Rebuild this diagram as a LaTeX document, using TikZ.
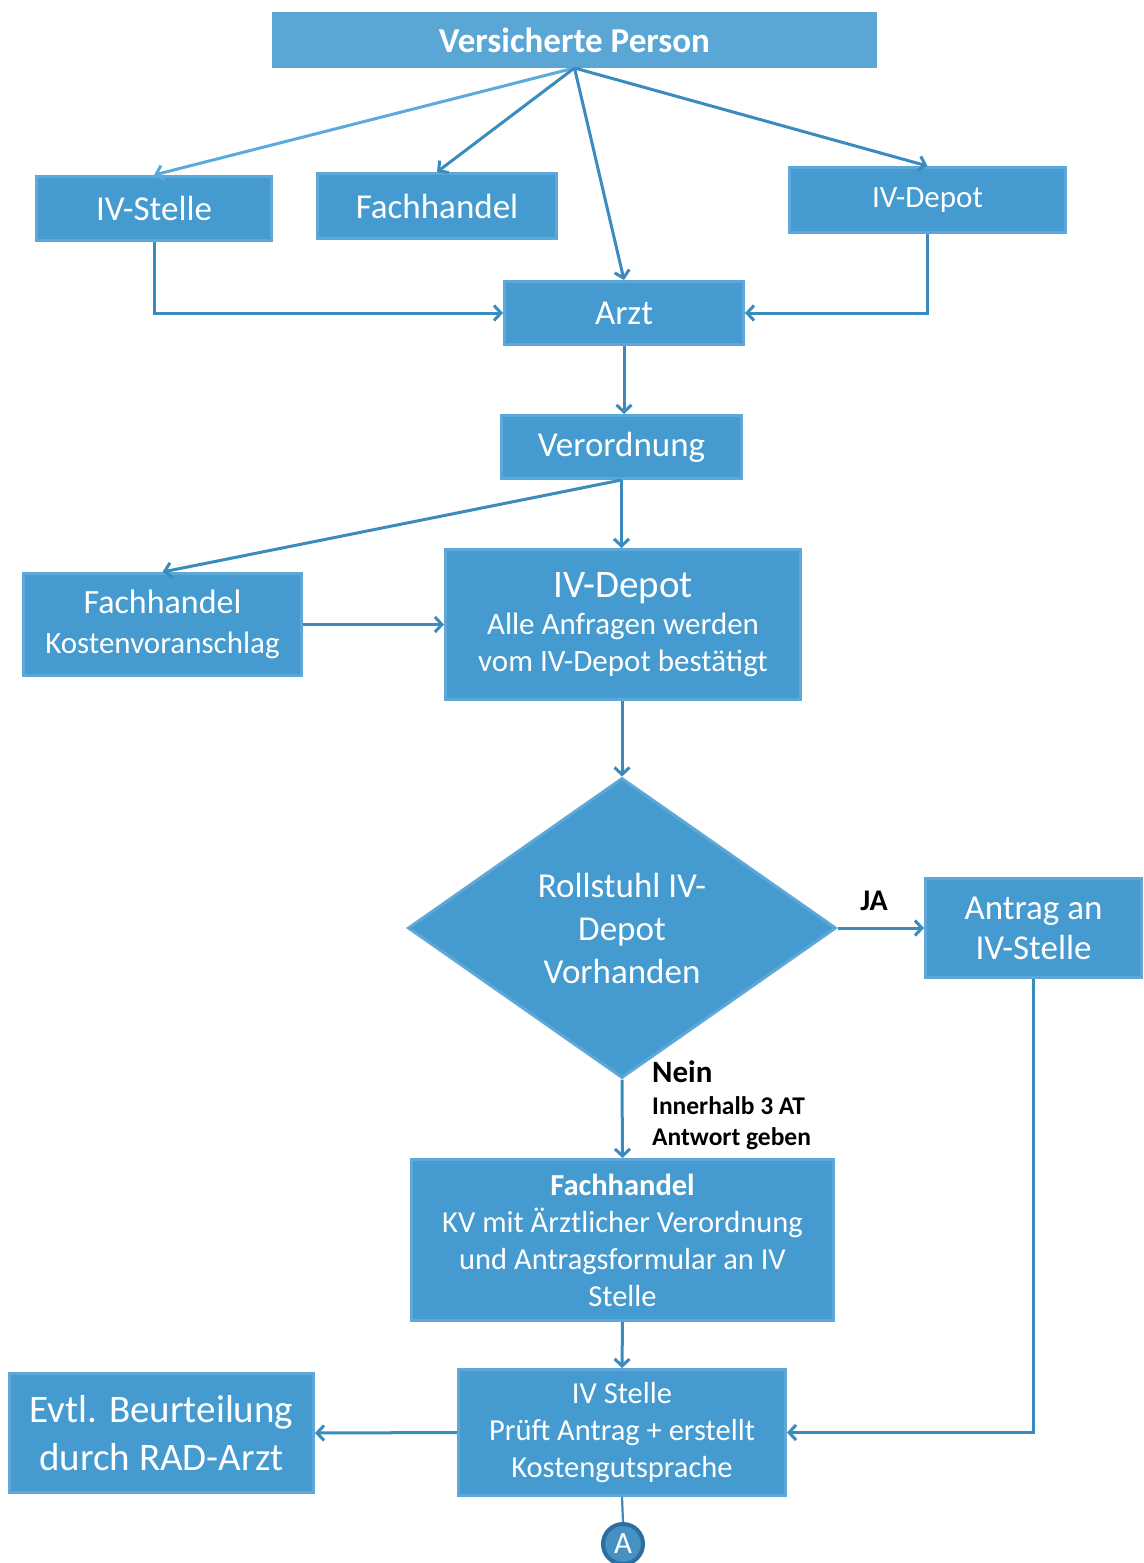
\documentclass[tikz,border=0pt]{standalone}
\usepackage{fontspec}
\setmainfont{Carlito}
\usetikzlibrary{arrows.meta,shapes.geometric}
\definecolor{boxfill}{HTML}{459BCF}
\definecolor{boxedge}{HTML}{5DA8D8}
\definecolor{topfill}{HTML}{5AA6D5}
\definecolor{arrowc}{HTML}{3A8BBE}
\definecolor{lightarrow}{HTML}{5AAADB}
\definecolor{circdark}{HTML}{2D6E9E}
\definecolor{circfill}{HTML}{4690C4}
\newcommand\fsz[2]{\fontsize{#1}{#2}\selectfont}
\begin{document}
\begin{tikzpicture}[x=1pt,y=-1pt,
  box/.style={draw=boxedge, fill=boxfill, line width=3pt, text=white, align=center, inner sep=0pt},
  conn/.style={draw=arrowc, line width=3pt, -{Straight Barb[length=7pt,width=15pt]}},
  lbl/.style={text=black, inner sep=0pt, anchor=west}]
\useasboundingbox (0,0) rectangle (1143,1563);
\fill[white] (0,0) rectangle (1143,1563);

\node[box, fill=topfill, draw=topfill, minimum width=602pt, minimum height=53pt, font=\fsz{35}{40}\bfseries] (vp) at (574.5,40) {Versicherte Person};
\node[box, minimum width=235pt, minimum height=64pt, font=\fsz{35}{40}] (ivs) at (154,208.5) {IV-Stelle};
\node[box, minimum width=239pt, minimum height=65pt, font=\fsz{35}{40}] (fh) at (437,206) {Fachhandel};
\node[box, minimum width=276pt, minimum height=65pt, font=\fsz{31}{36}] (ivd) at (927.5,200) {IV-Depot};
\node[box, minimum width=239pt, minimum height=63pt, font=\fsz{35}{40}] (arzt) at (624,313) {Arzt};
\node[box, minimum width=240pt, minimum height=63pt, font=\fsz{35}{40}] (verord) at (621.5,447) {Verordnung};
\node[box, minimum width=278pt, minimum height=102pt, font=\fsz{31}{40}] (fkv) at (162.5,624.5) {{\fsz{34}{40}Fachhandel}\\Kostenvoranschlag};
\node[box, minimum width=355pt, minimum height=150pt, font=\fsz{31}{37}] (ivdb) at (623,624.5) {{\fsz{39}{39}IV-Depot}\\Alle Anfragen werden\\vom IV-Depot bestätigt};
\node[box, diamond, minimum width=428pt, minimum height=300pt, font=\fsz{35}{43}] (dia) at (622,928) {Rollstuhl IV-\\Depot\\Vorhanden};
\node[box, minimum width=216pt, minimum height=99pt, font=\fsz{35}{40}] (antrag) at (1033.5,928) {Antrag an\\IV-Stelle};
\node[box, minimum width=422pt, minimum height=161pt, font=\fsz{30.5}{37}] (fkv2) at (622.5,1240) {{\bfseries Fachhandel}\\KV mit Ärztlicher Verordnung\\und Antragsformular an IV\\Stelle};
\node[box, minimum width=327pt, minimum height=126pt, font=\fsz{30.5}{37}] (ivs2) at (622,1432.5) {IV Stelle\\Prüft Antrag + erstellt\\Kostengutsprache};
\node[box, minimum width=304pt, minimum height=119pt, font=\fsz{39}{48}] (evtl) at (161.5,1433) {Evtl. Beurteilung\\durch RAD-Arzt};
\node[circle, draw=circdark, fill=circfill, line width=4pt, minimum size=40pt, inner sep=0pt, text=white, font=\fsz{31}{31}] (circA) at (623,1544) {A};

\node[lbl, font=\fsz{31}{33}\bfseries] (nein) at (652,1072) {Nein};
\node[lbl, font=\fsz{25.5}{28}\bfseries] (inner) at (652,1106) {Innerhalb 3 AT};
\node[lbl, font=\fsz{25.5}{28}\bfseries] (antw) at (652,1139) {Antwort geben};
\node[text=black, inner sep=0pt, font=\fsz{30}{33}\bfseries] (ja) at (874,901) {JA};

\draw[conn, draw=lightarrow] (vp.south) -- (ivs.north);
\draw[conn] (vp.south) -- (fh.north);
\draw[conn] (vp.south) -- (arzt.north);
\draw[conn] (vp.south) -- (ivd.north);
\draw[conn] (ivs.south) |- (arzt.west);
\draw[conn] (ivd.south) |- (arzt.east);
\draw[conn] (arzt.south) -- (arzt.south |- verord.north);
\draw[conn] (verord.south) -- (verord.south |- ivdb.north);
\draw[conn] (verord.south) -- (fkv.north);
\draw[conn] (fkv.east) -- (ivdb.west);
\draw[conn] (dia.north |- ivdb.south) -- (dia.north);
\draw[conn] (dia.east) -- (antrag.west);
\draw[conn] (dia.south) -- (fkv2.north);
\draw[conn] (fkv2.south) -- (ivs2.north);
\draw[conn] (antrag.south) |- (ivs2.east);
\draw[conn] (ivs2.west) -- (evtl.east);
\draw[draw=arrowc, line width=2.2pt] (ivs2.south) -- (circA.north);
\end{tikzpicture}
\end{document}
